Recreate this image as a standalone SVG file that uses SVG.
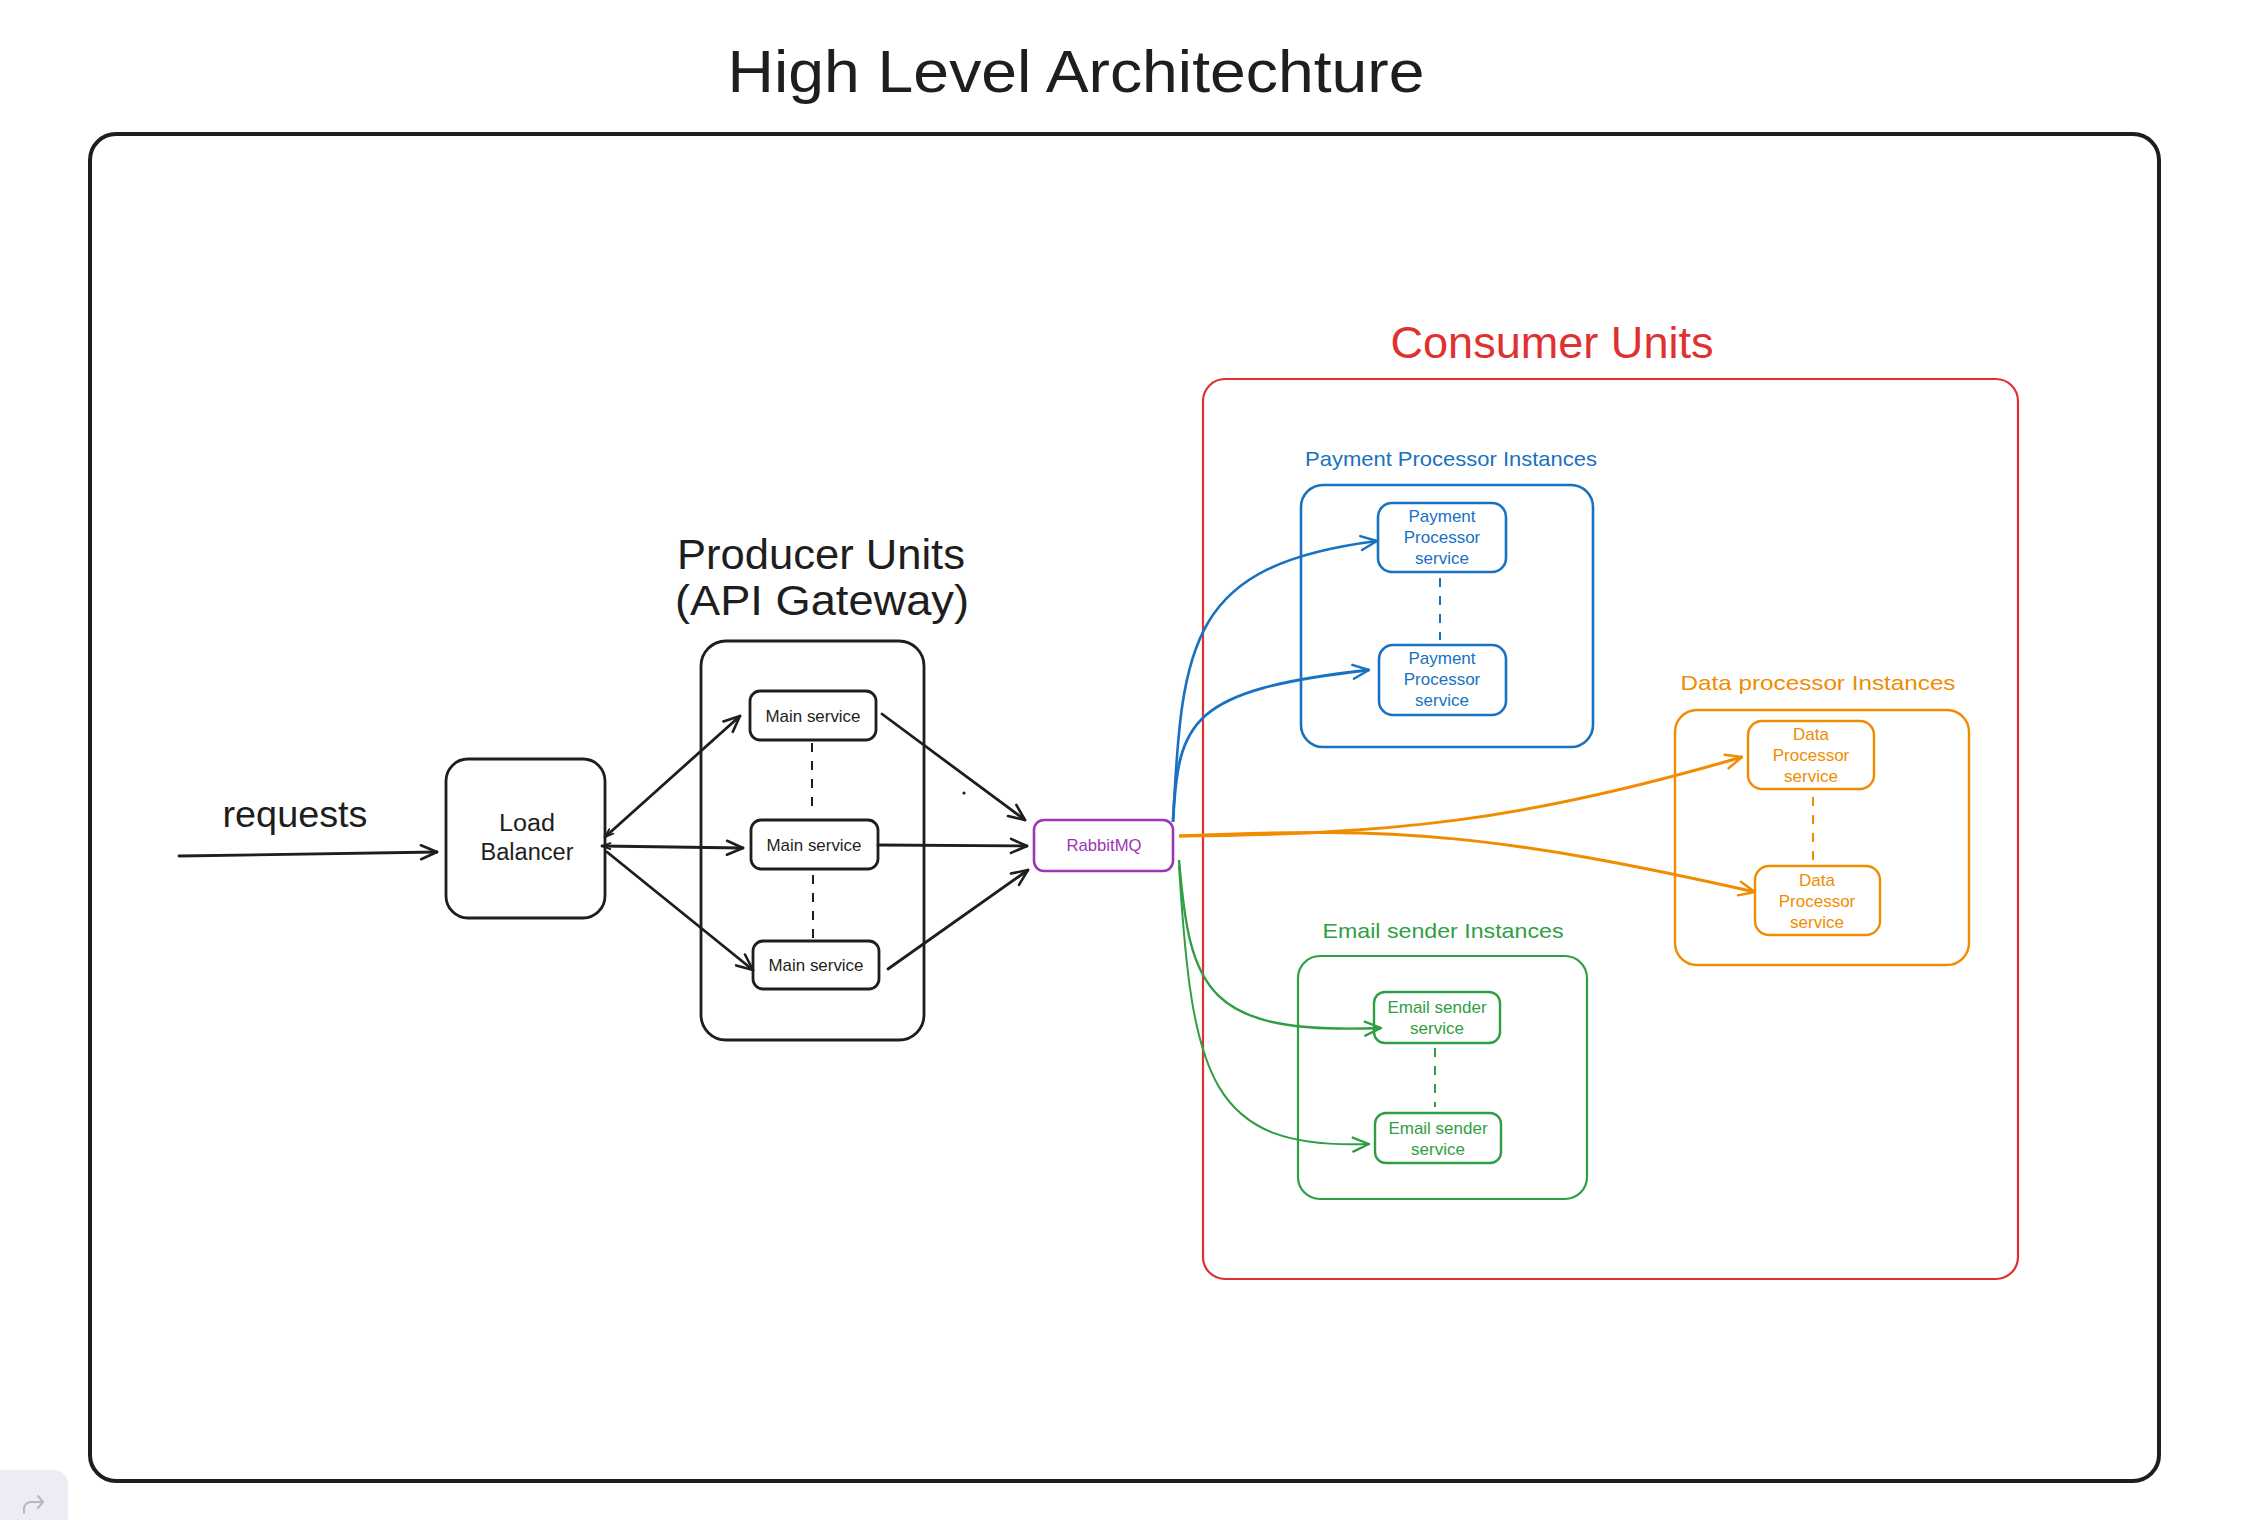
<svg xmlns="http://www.w3.org/2000/svg" width="2248" height="1520" viewBox="0 0 2248 1520">
<defs>
<style>
text{font-family:"Liberation Sans","DejaVu Sans",sans-serif;text-anchor:middle}
.k{fill:#1e1e1e}
.box{fill:none;stroke:#1e1e1e;stroke-width:2.8}
.svc{fill:#ffffff;stroke:#1e1e1e;stroke-width:2.8}
.ln{fill:none;stroke:#1e1e1e;stroke-width:2.8;stroke-linecap:round}
.dash{fill:none;stroke-width:2;stroke-dasharray:9 9}
.blue{stroke:#1971c2}
.orange{stroke:#f08c00}
.green{stroke:#2f9e44}
.red{stroke:#e03131}
.tb{fill:#1971c2}
.to{fill:#f08c00}
.tg{fill:#2f9e44}
.tr{fill:#e03131}
.tp{fill:#9c36b5}
</style>
<marker id="ak" viewBox="0 0 20 20" refX="18" refY="10" markerWidth="20" markerHeight="20" markerUnits="userSpaceOnUse" orient="auto"><path d="M2,3 L18,10 L2,17" fill="none" stroke="#1e1e1e" stroke-width="2.6" stroke-linecap="round" stroke-linejoin="round"/></marker>
<marker id="aks" viewBox="0 0 20 20" refX="18" refY="10" markerWidth="12" markerHeight="12" markerUnits="userSpaceOnUse" orient="auto-start-reverse"><path d="M4,5 L18,10 L4,15" fill="none" stroke="#1e1e1e" stroke-width="3" stroke-linecap="round"/></marker>
<marker id="ab" viewBox="0 0 20 20" refX="18" refY="10" markerWidth="20" markerHeight="20" markerUnits="userSpaceOnUse" orient="auto"><path d="M2,3 L18,10 L2,17" fill="none" stroke="#1971c2" stroke-width="2.4" stroke-linecap="round" stroke-linejoin="round"/></marker>
<marker id="ao" viewBox="0 0 20 20" refX="18" refY="10" markerWidth="20" markerHeight="20" markerUnits="userSpaceOnUse" orient="auto"><path d="M2,3 L18,10 L2,17" fill="none" stroke="#f08c00" stroke-width="2.4" stroke-linecap="round" stroke-linejoin="round"/></marker>
<marker id="ag" viewBox="0 0 20 20" refX="18" refY="10" markerWidth="20" markerHeight="20" markerUnits="userSpaceOnUse" orient="auto"><path d="M2,3 L18,10 L2,17" fill="none" stroke="#2f9e44" stroke-width="2.4" stroke-linecap="round" stroke-linejoin="round"/></marker>
</defs>
<rect width="2248" height="1520" fill="#ffffff"/>

<g id="title"><text class="k" x="1076" y="92" font-size="60" textLength="697" lengthAdjust="spacingAndGlyphs">High Level Architechture</text></g>

<g id="frame"><rect x="90" y="134" width="2069" height="1347" rx="26" fill="none" stroke="#1e1e1e" stroke-width="4"/></g>

<g id="consumer-units">
<rect x="1203" y="379" width="815" height="900" rx="22" fill="none" stroke="#e03131" stroke-width="2.2"/>
<text class="tr" x="1552" y="358" font-size="44" textLength="323" lengthAdjust="spacingAndGlyphs">Consumer Units</text>
</g>

<g id="requests-label"><text class="k" x="295" y="827" font-size="36" textLength="145" lengthAdjust="spacingAndGlyphs">requests</text></g>

<g id="load-balancer">
<rect class="box" x="446" y="759" width="159" height="159" rx="22"/>
<text class="k" x="527" y="831" font-size="23" textLength="56" lengthAdjust="spacingAndGlyphs">Load</text>
<text class="k" x="527" y="860" font-size="23" textLength="93" lengthAdjust="spacingAndGlyphs">Balancer</text>
</g>

<g id="producer-units">
<text class="k" x="821" y="569" font-size="43" textLength="288" lengthAdjust="spacingAndGlyphs">Producer Units</text>
<text class="k" x="822" y="615" font-size="43" textLength="294" lengthAdjust="spacingAndGlyphs">(API Gateway)</text>
<rect class="box" x="701" y="641" width="223" height="399" rx="25"/>
</g>

<g id="main-service-1"><rect class="svc" x="750" y="691" width="126" height="49" rx="10"/><text class="k" x="813" y="722" font-size="17" textLength="95" lengthAdjust="spacingAndGlyphs">Main service</text></g>
<g id="main-service-2"><rect class="svc" x="751" y="820" width="127" height="49" rx="10"/><text class="k" x="814" y="851" font-size="17" textLength="95" lengthAdjust="spacingAndGlyphs">Main service</text></g>
<g id="main-service-3"><rect class="svc" x="753" y="941" width="126" height="48" rx="10"/><text class="k" x="816" y="971" font-size="17" textLength="95" lengthAdjust="spacingAndGlyphs">Main service</text></g>

<g id="rabbitmq"><rect x="1034" y="820" width="139" height="51" rx="10" fill="#ffffff" stroke="#9c36b5" stroke-width="2.6"/><text class="tp" x="1104" y="851" font-size="17" textLength="75" lengthAdjust="spacingAndGlyphs">RabbitMQ</text></g>

<g id="payment-instances">
<text class="tb" x="1451" y="466" font-size="21" textLength="292" lengthAdjust="spacingAndGlyphs">Payment Processor Instances</text>
<rect x="1301" y="485" width="292" height="262" rx="22" fill="none" stroke="#1971c2" stroke-width="2.6"/>
</g>
<g id="payment-service-1"><rect x="1378" y="503" width="128" height="69" rx="14" fill="#ffffff" stroke="#1971c2" stroke-width="2.6"/>
<text class="tb" font-size="17"><tspan x="1442" y="522">Payment</tspan><tspan x="1442" y="543">Processor</tspan><tspan x="1442" y="564">service</tspan></text></g>
<g id="payment-service-2"><rect x="1379" y="645" width="127" height="70" rx="14" fill="#ffffff" stroke="#1971c2" stroke-width="2.6"/>
<text class="tb" font-size="17"><tspan x="1442" y="664">Payment</tspan><tspan x="1442" y="685">Processor</tspan><tspan x="1442" y="706">service</tspan></text></g>

<g id="data-instances">
<text class="to" x="1818" y="690" font-size="21" textLength="275" lengthAdjust="spacingAndGlyphs">Data processor Instances</text>
<rect x="1675" y="710" width="294" height="255" rx="22" fill="none" stroke="#f08c00" stroke-width="2.4"/>
</g>
<g id="data-service-1"><rect x="1748" y="721" width="126" height="68" rx="14" fill="#ffffff" stroke="#f08c00" stroke-width="2.4"/>
<text class="to" font-size="17"><tspan x="1811" y="740">Data</tspan><tspan x="1811" y="761">Processor</tspan><tspan x="1811" y="782">service</tspan></text></g>
<g id="data-service-2"><rect x="1755" y="866" width="125" height="69" rx="14" fill="#ffffff" stroke="#f08c00" stroke-width="2.4"/>
<text class="to" font-size="17"><tspan x="1817" y="886">Data</tspan><tspan x="1817" y="907">Processor</tspan><tspan x="1817" y="928">service</tspan></text></g>

<g id="email-instances">
<text class="tg" x="1443" y="938" font-size="21" textLength="241" lengthAdjust="spacingAndGlyphs">Email sender Instances</text>
<rect x="1298" y="956" width="289" height="243" rx="22" fill="none" stroke="#2f9e44" stroke-width="2.2"/>
</g>
<g id="email-service-1"><rect x="1374" y="992" width="126" height="51" rx="11" fill="#ffffff" stroke="#2f9e44" stroke-width="2.4"/>
<text class="tg" font-size="17"><tspan x="1437" y="1013">Email sender</tspan><tspan x="1437" y="1034">service</tspan></text></g>
<g id="email-service-2"><rect x="1375" y="1113" width="126" height="50" rx="11" fill="#ffffff" stroke="#2f9e44" stroke-width="2.4"/>
<text class="tg" font-size="17"><tspan x="1438" y="1134">Email sender</tspan><tspan x="1438" y="1155">service</tspan></text></g>

<g id="connectors">
<path class="ln" d="M179,856 L437,852" marker-end="url(#ak)"/>
<path class="ln" d="M605,837 L740,716" marker-end="url(#ak)" marker-start="url(#aks)"/>
<path class="ln" d="M602,846 L743,848" marker-end="url(#ak)" marker-start="url(#aks)"/>
<path class="ln" d="M607,852 L753,970" marker-end="url(#ak)"/>
<path class="ln" d="M882,714 L1025,820" marker-end="url(#ak)"/>
<path class="ln" d="M878,845 L1027,846" marker-end="url(#ak)"/>
<path class="ln" d="M888,969 L1028,870" marker-end="url(#ak)"/>
<circle cx="964" cy="793" r="1.6" fill="#1e1e1e"/>
<path class="dash" stroke="#1e1e1e" d="M812,743 L812,815"/>
<path class="dash" stroke="#1e1e1e" d="M813,875 L813,939"/>
<path class="dash blue" d="M1440,578 L1440,640"/>
<path class="dash orange" d="M1813,797 L1813,860"/>
<path class="dash green" d="M1435,1048 L1435,1107"/>
<path fill="none" stroke="#1971c2" stroke-width="2.6" d="M1173,822 C1182,640 1190,565 1377,541" marker-end="url(#ab)"/>
<path fill="none" stroke="#1971c2" stroke-width="2.8" d="M1173,822 C1178,720 1190,690 1369,670" marker-end="url(#ab)"/>
<path fill="none" stroke="#f08c00" stroke-width="3" d="M1179,836 C1390,834 1520,822 1742,757" marker-end="url(#ao)"/>
<path fill="none" stroke="#f08c00" stroke-width="3" d="M1179,836 C1400,826 1500,835 1755,892" marker-end="url(#ao)"/>
<path fill="none" stroke="#2f9e44" stroke-width="2.4" d="M1179,860 C1190,990 1205,1035 1381,1028" marker-end="url(#ag)"/>
<path fill="none" stroke="#2f9e44" stroke-width="2" d="M1179,865 C1192,1080 1210,1150 1369,1144" marker-end="url(#ag)"/>
</g>

<g id="corner-button">
<rect x="-20" y="1470" width="88" height="70" rx="14" fill="#ececf4"/>
<path d="M24,1513 v-4 a7,7 0 0 1 7,-7 h12 M38,1496 l5,6 -5,6" fill="none" stroke="#b8b8c0" stroke-width="2" stroke-linecap="round" stroke-linejoin="round"/>
</g>
</svg>
